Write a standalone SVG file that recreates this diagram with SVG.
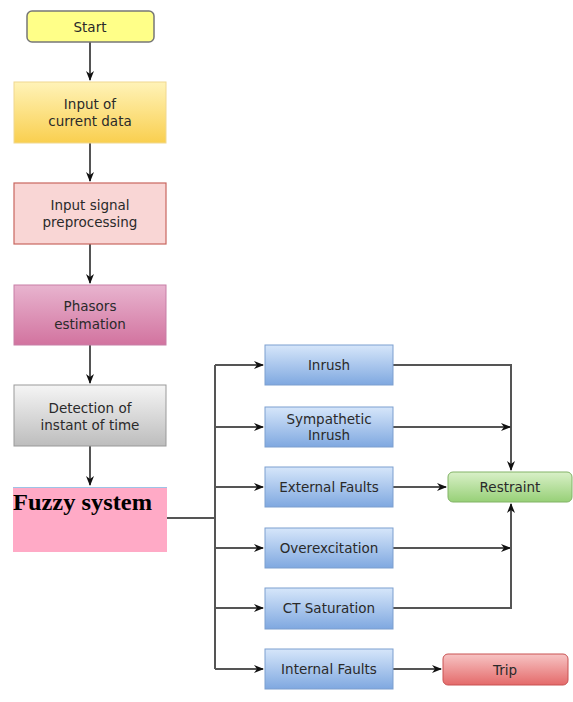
<svg xmlns="http://www.w3.org/2000/svg" width="573" height="702" viewBox="0 0 573 702">
<defs>
<linearGradient id="gYel" x1="0" y1="0" x2="0" y2="1"><stop offset="0" stop-color="#fff3b8"/><stop offset="1" stop-color="#f9cf4f"/></linearGradient>
<linearGradient id="gPink" x1="0" y1="0" x2="0" y2="1"><stop offset="0" stop-color="#e8b4cf"/><stop offset="1" stop-color="#d2739f"/></linearGradient>
<linearGradient id="gGray" x1="0" y1="0" x2="0" y2="1"><stop offset="0" stop-color="#f5f5f5"/><stop offset="1" stop-color="#bdbdbd"/></linearGradient>
<linearGradient id="gBlue" x1="0" y1="0" x2="0" y2="1"><stop offset="0" stop-color="#d6e6fa"/><stop offset="1" stop-color="#7fa8e0"/></linearGradient>
<linearGradient id="gGreen" x1="0" y1="0" x2="0" y2="1"><stop offset="0" stop-color="#d9f0c8"/><stop offset="1" stop-color="#97d077"/></linearGradient>
<linearGradient id="gRed" x1="0" y1="0" x2="0" y2="1"><stop offset="0" stop-color="#f7c4c4"/><stop offset="1" stop-color="#e46a6a"/></linearGradient>
<marker id="arr" markerWidth="10" markerHeight="8" refX="9" refY="4" orient="auto" markerUnits="userSpaceOnUse"><path d="M0,0 L10,4 L0,8 L3,4 Z" fill="#111"/></marker>
</defs>
<style>
.t{font-family:"DejaVu Sans",Verdana,sans-serif;font-size:13.5px;fill:#2a2a2a;text-anchor:middle}
.c{fill:none;stroke:#555;stroke-width:2}
.blue{fill:url(#gBlue);stroke:#7d9fcf;stroke-width:1}
</style>
<g id="connectors">
<path class="c" d="M90,42 V80" marker-end="url(#arr)"/>
<path class="c" d="M90,143 V181" marker-end="url(#arr)"/>
<path class="c" d="M90,244 V283" marker-end="url(#arr)"/>
<path class="c" d="M90,345 V383" marker-end="url(#arr)"/>
<path class="c" d="M90,446 V485" marker-end="url(#arr)"/>
<path class="c" d="M167,518 H215"/>
<path class="c" d="M215,365 V669"/>
<path class="c" d="M215,365 H263" marker-end="url(#arr)"/>
<path class="c" d="M215,427 H263" marker-end="url(#arr)"/>
<path class="c" d="M215,487 H263" marker-end="url(#arr)"/>
<path class="c" d="M215,548 H263" marker-end="url(#arr)"/>
<path class="c" d="M215,608 H263" marker-end="url(#arr)"/>
<path class="c" d="M215,669 H263" marker-end="url(#arr)"/>
<path class="c" d="M393,365 H511 V470" marker-end="url(#arr)"/>
<path class="c" d="M393,427 H510" marker-end="url(#arr)"/>
<path class="c" d="M393,487 H446" marker-end="url(#arr)"/>
<path class="c" d="M393,548 H510" marker-end="url(#arr)"/>
<path class="c" d="M393,608 H511 V504" marker-end="url(#arr)"/>
<path class="c" d="M393,669 H441" marker-end="url(#arr)"/>
</g>
<g id="start"><rect x="27" y="11" width="127" height="31" rx="5" fill="#ffff88" stroke="#777" stroke-width="1.5"/><text class="t" x="90" y="32">Start</text></g>
<g id="input"><rect x="14" y="82" width="152" height="61" fill="url(#gYel)" stroke="#f0d890"/><text class="t" x="90" y="109">Input of</text><text class="t" x="90" y="126">current data</text></g>
<g id="preproc"><rect x="14" y="183" width="152" height="61" fill="#f9d6d5" stroke="#c8665f" stroke-width="1.2"/><text class="t" x="90" y="210">Input signal</text><text class="t" x="90" y="227">preprocessing</text></g>
<g id="phasors"><rect x="14" y="285" width="152" height="60" fill="url(#gPink)" stroke="#c77fa6"/><text class="t" x="90" y="311">Phasors</text><text class="t" x="90" y="329">estimation</text></g>
<g id="detection"><rect x="14" y="385" width="152" height="61" fill="url(#gGray)" stroke="#999"/><text class="t" x="90" y="413">Detection of</text><text class="t" x="90" y="430">instant of time</text></g>
<g id="fuzzy"><rect x="13" y="487" width="154" height="65" fill="#ffaac6"/><line x1="13" y1="487.5" x2="167" y2="487.5" stroke="#9dc3e6" stroke-width="1"/><text x="13" y="510" font-family="'Liberation Serif','Times New Roman',serif" font-weight="bold" font-size="23" textLength="139" lengthAdjust="spacingAndGlyphs" fill="#000">Fuzzy system</text></g>
<g id="inrush"><rect class="blue" x="265" y="345" width="128" height="40"/><text class="t" x="329" y="370">Inrush</text></g>
<g id="sympathetic"><rect class="blue" x="265" y="407" width="128" height="40"/><text class="t" x="329" y="424">Sympathetic</text><text class="t" x="329" y="440">Inrush</text></g>
<g id="external"><rect class="blue" x="265" y="467" width="128" height="40"/><text class="t" x="329" y="492">External Faults</text></g>
<g id="overexc"><rect class="blue" x="265" y="528" width="128" height="40"/><text class="t" x="329" y="553">Overexcitation</text></g>
<g id="ct"><rect class="blue" x="265" y="588" width="128" height="41"/><text class="t" x="329" y="613">CT Saturation</text></g>
<g id="internal"><rect class="blue" x="265" y="649" width="128" height="40"/><text class="t" x="329" y="674">Internal Faults</text></g>
<g id="restraint"><rect x="448" y="472" width="124" height="30" rx="5" fill="url(#gGreen)" stroke="#82b366"/><text class="t" x="510" y="492">Restraint</text></g>
<g id="trip"><rect x="443" y="654" width="125" height="31" rx="5" fill="url(#gRed)" stroke="#c95353"/><text class="t" x="505" y="675">Trip</text></g>
</svg>
